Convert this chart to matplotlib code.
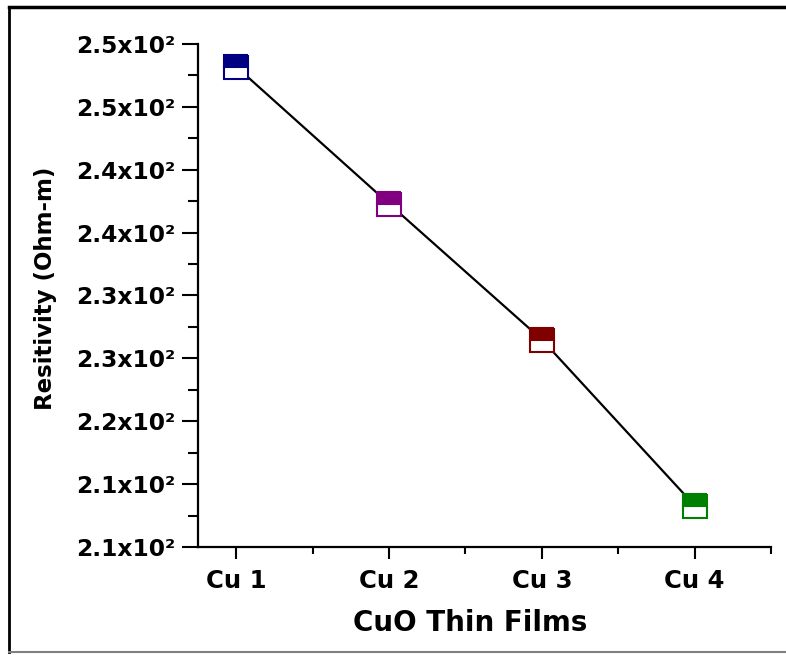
import matplotlib
matplotlib.use('Agg')
import matplotlib.pyplot as plt
from matplotlib.lines import Line2D
from matplotlib.ticker import FixedLocator, MultipleLocator

# ---- data ----
samples = ['Cu 1', 'Cu 2', 'Cu 3', 'Cu 4']
resistivity = [248.2, 237.3, 226.5, 213.3]
marker_colors = ['#000080', '#800080', '#800000', '#008000']
ytick_values = [210, 215, 220, 225, 230, 235, 240, 245, 250]
ytick_labels = ['2.1x10²', '2.1x10²', '2.2x10²', '2.3x10²', '2.3x10²',
                '2.4x10²', '2.4x10²', '2.5x10²', '2.5x10²']

W, H = 786, 655
fig = plt.figure(figsize=(W / 100, H / 100), dpi=100)
fig.patch.set_facecolor('white')

left_px, right_px, top_px, bottom_px = 198, 771, 44, 547
ax = fig.add_axes([left_px / W, 1 - bottom_px / H,
                   (right_px - left_px) / W, (bottom_px - top_px) / H])

x = list(range(1, len(samples) + 1))
ax.plot(x, resistivity, color='black', lw=1.6, zorder=2)
for xi, yi, c in zip(x, resistivity, marker_colors):
    ax.plot([xi], [yi], marker='s', ms=17.5, fillstyle='top', mfc=c,
            mfcalt='white', mec=c, mew=1.5, ls='none', zorder=3,
            clip_on=False)

ax.set_xlim(0.75, 4.5)
ax.set_ylim(210, 250)

ax.spines['top'].set_visible(False)
ax.spines['right'].set_visible(False)
for s in ('left', 'bottom'):
    ax.spines[s].set_linewidth(1.6)
    ax.spines[s].set_capstyle('projecting')

ax.xaxis.set_major_locator(FixedLocator(x))
ax.set_xticklabels(samples)
ax.xaxis.set_minor_locator(MultipleLocator(0.5))
ax.yaxis.set_major_locator(FixedLocator(ytick_values))
ax.set_yticklabels(ytick_labels)
ax.yaxis.set_minor_locator(MultipleLocator(2.5))

ax.tick_params(axis='y', which='major', direction='out', length=11.5,
               width=1.5, pad=5)
ax.tick_params(axis='y', which='minor', direction='out', length=7, width=1.5)
ax.tick_params(axis='x', which='major', direction='out', length=8.6,
               width=1.5, pad=7)
ax.tick_params(axis='x', which='minor', direction='out', length=5, width=1.5)

font = 'DejaVu Sans'
for lab in ax.get_yticklabels():
    lab.set_fontfamily(font)
    lab.set_fontweight('bold')
    lab.set_fontsize(16.8)
for lab in ax.get_xticklabels():
    lab.set_fontfamily(font)
    lab.set_fontweight('bold')
    lab.set_fontsize(17.5)

ax.set_xlabel('CuO Thin Films', fontfamily=font, fontweight='bold',
              fontsize=20)
ax.xaxis.set_label_coords((470 - left_px) / (right_px - left_px),
                          (bottom_px - 609) / (bottom_px - top_px))
ax.set_ylabel('Resitivity (Ohm-m)', fontfamily=font, fontweight='bold',
              fontsize=16.5)
ax.yaxis.set_label_coords((57 - left_px) / (right_px - left_px),
                          (bottom_px - 288) / (bottom_px - top_px))

# outer frame of the picture
fig.add_artist(Line2D([9 / W, 9 / W], [1 - 652 / H, 1 - 7 / H],
                      transform=fig.transFigure, color='black', lw=2))
fig.add_artist(Line2D([9 / W, 1.0], [1 - 7 / H, 1 - 7 / H],
                      transform=fig.transFigure, color='black', lw=2.5))
fig.add_artist(Line2D([9 / W, 1.0], [1 - 652 / H, 1 - 652 / H],
                      transform=fig.transFigure, color='#808080', lw=1.5))

fig.savefig('out.png', dpi=100)
